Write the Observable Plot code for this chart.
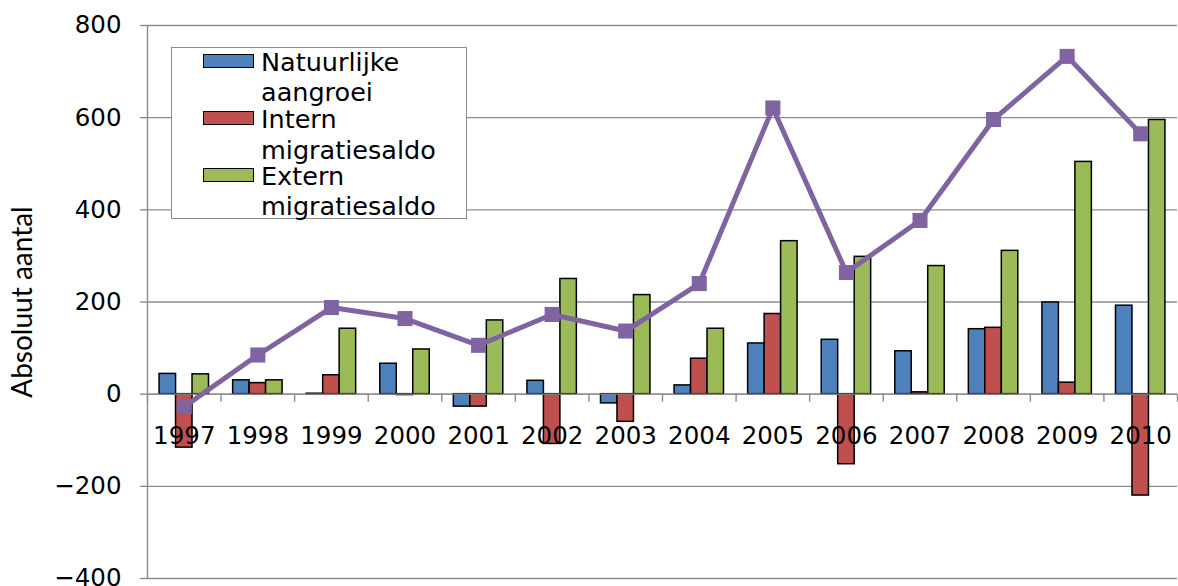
<!DOCTYPE html>
<html>
<head>
<meta charset="utf-8">
<script src="https://cdn.jsdelivr.net/npm/d3@7"></script>
<script src="https://cdn.jsdelivr.net/npm/@observablehq/plot@0.6"></script>
<style>
  html, body { margin: 0; padding: 0; background: #fff; }
  #wrap { position: relative; width: 1178px; height: 586px; font-family: "DejaVu Sans", sans-serif; }
  .legend { position: absolute; left: 171px; top: 47px; width: 296px; height: 172px; border: 1.5px solid #8c8c8c; background: #fff; box-sizing: border-box; }
  .entry { position: absolute; left: 0; font-size: 25.5px; line-height: 30.5px; color: #000; }
  .sw { position: absolute; left: 31px; width: 51px; height: 14px; border: 1.5px solid #000; box-sizing: border-box; }
  .lbl { position: absolute; left: 89px; white-space: nowrap; }
</style>
</head>
<body>
<div id="wrap"></div>
<script>
// ---- data ----
const years = [1997, 1998, 1999, 2000, 2001, 2002, 2003, 2004, 2005, 2006, 2007, 2008, 2009, 2010];
const natuurlijkeAangroei = [44, 30, 1, 66, -27, 29, -20, 19, 110, 118, 93, 141, 199, 192];
const internMigratiesaldo = [-116, 24, 41, -2, -27, -108, -60, 77, 174, -152, 4, 144, 25, -220];
const externMigratiesaldo = [43, 30, 142, 97, 160, 250, 215, 142, 332, 298, 278, 311, 504, 595];
const totaal = [-27, 85, 188, 164, 106, 173, 137, 240, 621, 264, 377, 596, 733, 565];
const seriesNames = ["Natuurlijke aangroei", "Intern migratiesaldo", "Extern migratiesaldo"];
const seriesColors = ["#4F81BD", "#C0504D", "#9BBB59"];
const lineColor = "#8064A2";
const yTicks = [-400, -200, 0, 200, 400, 600, 800];
const yLabel = "Absoluut aantal";
const legendLines = [["Natuurlijke", "aangroei"], ["Intern", "migratiesaldo"], ["Extern", "migratiesaldo"]];

// ---- tables ----
const seriesValues = [natuurlijkeAangroei, internMigratiesaldo, externMigratiesaldo];
const barW = 0.224; // bar width in year units
const bars = [];
seriesValues.forEach((vals, k) => {
  vals.forEach((v, i) => bars.push({ year: years[i], k, series: seriesNames[k], value: v }));
});
const lineData = years.map((y, i) => ({ year: y, value: totaal[i] }));
const xDomain = [years[0] - 0.5, years[years.length - 1] + 0.5];
const bounds = d3.range(years.length + 1).map(i => xDomain[0] + i);
const grid = "#8c8c8c";

const chart = Plot.plot({
  width: 1178,
  height: 586,
  marginLeft: 147,
  marginRight: 1,
  marginTop: 25,
  marginBottom: 8,
  x: { type: "linear", domain: xDomain, axis: null },
  y: { domain: [yTicks[0], yTicks[yTicks.length - 1]], axis: null },
  style: { fontFamily: "DejaVu Sans, sans-serif", fontSize: "24.5px", background: "transparent", overflow: "visible", color: "#000" },
  marks: [
    Plot.ruleY(yTicks, { stroke: grid, strokeWidth: 1.4 }),
    Plot.ruleX([xDomain[0]], { y1: yTicks[0], y2: yTicks[yTicks.length - 1], stroke: grid, strokeWidth: 1.4 }),
    Plot.axisY(yTicks, { tickSize: 7, tickPadding: 19, stroke: grid, strokeWidth: 1.4, fill: "#000", fontSize: 24.5, label: null, tickFormat: d => d < 0 ? "\u2212" + Math.abs(d) : String(d) }),
    Plot.rect(bars, {
      x1: d => d.year + (d.k - 1.5) * barW,
      x2: d => d.year + (d.k - 0.5) * barW,
      y1: 0,
      y2: "value",
      fill: d => seriesColors[d.k],
      stroke: "#000",
      strokeWidth: 1.5
    }),
    Plot.ruleY([0], { stroke: grid, strokeWidth: 1.4 }),
    Plot.ruleX(bounds, { x: d => d, y1: 0, y2: 0, insetTop: 8, stroke: grid, strokeWidth: 1.4 }),
    Plot.text(years, { x: d => d, y: 0, text: d => String(d), dy: 42, fontSize: 24.5, fill: "#000" }),
    Plot.line(lineData, { x: "year", y: "value", stroke: lineColor, strokeWidth: 5 }),
    Plot.dot(lineData, { x: "year", y: "value", symbol: "square", r: 8.5, fill: lineColor, stroke: "none" }),
    Plot.text([yLabel], { frameAnchor: "left", textAnchor: "middle", rotate: -90, dx: -124, dy: 0, fontSize: 28, fontFamily: "Lato, sans-serif", fill: "#000" })
  ]
});

const wrap = document.getElementById("wrap");
wrap.appendChild(chart);

// legend (HTML overlay inside plot area)
const legend = document.createElement("div");
legend.className = "legend";
const tops = [-1.5, 56, 112.7];
legendLines.forEach((lines, k) => {
  const e = document.createElement("div");
  e.className = "entry";
  e.style.top = tops[k] + "px";
  const sw = document.createElement("div");
  sw.className = "sw";
  sw.style.background = seriesColors[k];
  sw.style.top = "7px";
  e.appendChild(sw);
  const l = document.createElement("div");
  l.className = "lbl";
  l.innerHTML = lines.join("<br>");
  e.appendChild(l);
  legend.appendChild(e);
});
wrap.appendChild(legend);
</script>
</body>
</html>
